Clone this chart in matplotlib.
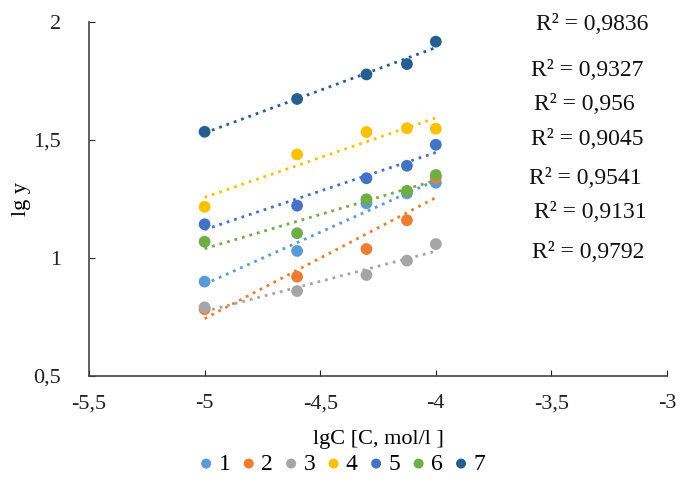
import numpy as np
import matplotlib
matplotlib.use("Agg")
from matplotlib import pyplot as plt
from matplotlib.ticker import FuncFormatter

# data
lgC = [-5, -4.6, -4.3, -4.125, -4]
s1 = [0.900, 1.030, 1.232, 1.274, 1.319]
s2 = [0.783, 0.921, 1.038, 1.160, 1.340]
s3 = [0.791, 0.860, 0.928, 0.989, 1.059]
s4 = [1.217, 1.439, 1.534, 1.550, 1.548]
s5 = [1.143, 1.222, 1.338, 1.391, 1.480]
s6 = [1.069, 1.105, 1.249, 1.285, 1.352]
s7 = [1.535, 1.674, 1.778, 1.822, 1.917]
names = ["1", "2", "3", "4", "5", "6", "7"]
r2_labels = ["R² = 0,9836", "R² = 0,9327", "R² = 0,956", "R² = 0,9045",
             "R² = 0,9541", "R² = 0,9131", "R² = 0,9792"]

series = [s1, s2, s3, s4, s5, s6, s7]
colors = ["#5B9BD5", "#ED7D31", "#A5A5A5", "#FFC000", "#4472C4", "#70AD47", "#255E91"]

plt.rcParams['font.family'] = ['Liberation Serif', 'DejaVu Serif']

fig = plt.figure(figsize=(6.8, 4.93), dpi=100)
ax = fig.add_axes([0.1309, 0.2373, 0.85, 0.718])

x = np.array(lgC)
for ys, c, n in zip(series, colors, names):
    ax.scatter(x, ys, s=72, color=c, label=n, zorder=3, edgecolors='none')
    k, b = np.polyfit(x, ys, 1)
    xl = np.array([x.min(), x.max()])
    ax.plot(xl, k * xl + b, linestyle=(0, (1, 1.8)), color=c, linewidth=2, zorder=2)

ax.set_xlim(-5.5, -3)
ax.set_ylim(0.5, 2)
ax.set_xticks([-5.5, -5, -4.5, -4, -3.5, -3])
ax.set_yticks([0.5, 1, 1.5, 2])
fmt = FuncFormatter(lambda v, p: ("%g" % v).replace(".", ","))
ax.xaxis.set_major_formatter(fmt)
ax.yaxis.set_major_formatter(fmt)
ax.tick_params(direction='in', length=4, labelsize=16, colors='#222222')
ax.tick_params(axis='y', pad=20)
ax.tick_params(axis='x', pad=13)
for sp in ['top', 'right']:
    ax.spines[sp].set_visible(False)
for sp in ['left', 'bottom']:
    ax.spines[sp].set_color('#444444')
    ax.spines[sp].set_linewidth(1.2)

ax.set_xlabel("lgC [C, mol/l ]", fontsize=16, labelpad=12)
ax.set_ylabel("lg y", fontsize=16, labelpad=2)

# R² labels on the right
rx = [536, 531, 534, 531, 529, 534, 532]
ry = [25, 70, 105, 140, 178, 213, 253]
for t, px, py in zip(r2_labels, rx, ry):
    fig.text(px / 680, 1 - py / 493, t, fontsize=17, ha='left', va='center', color='#111111')

fig.legend(loc='center', bbox_to_anchor=(343 / 680, 1 - 464 / 493), ncol=7, frameon=False,
           fontsize=17, handlelength=0.45, handletextpad=0.3, columnspacing=0.55,
           markerscale=0.85, borderpad=0)

plt.savefig("out.png", dpi=100)
